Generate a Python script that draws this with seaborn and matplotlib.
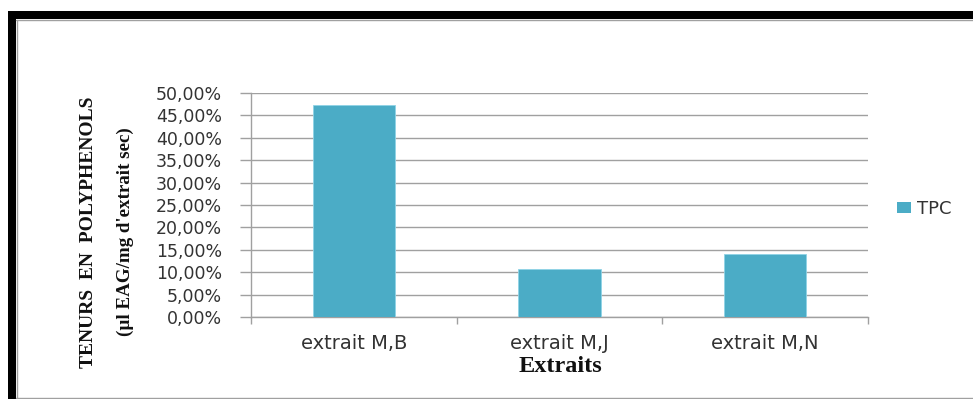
import matplotlib
matplotlib.use("Agg")
import matplotlib.pyplot as plt
import matplotlib.ticker as mticker
from matplotlib.patches import Rectangle, Patch
from matplotlib.lines import Line2D
import seaborn as sns
import pandas as pd

categories = ["extrait M,B", "extrait M,J", "extrait M,N"]
tpc_values = [0.473, 0.107, 0.141]
series_name = "TPC"
ytick_values = [0.0, 0.05, 0.10, 0.15, 0.20, 0.25, 0.30, 0.35, 0.40, 0.45, 0.50]
ylabel_line1 = "TENURS  EN  POLYPHENOLS"
ylabel_line2 = "(µl EAG/mg d'extrait sec)"
xlabel_text = "Extraits"

df = pd.DataFrame({"cat": categories, "val": tpc_values})

sns.set_style("white")
plt.rcParams['font.family'] = ['DejaVu Sans']

W, H = 973, 399
fig = plt.figure(figsize=(W / 100, H / 100), dpi=100)
ax = fig.add_axes([251 / W, 1 - 317.3 / H, (868 - 251) / W, (317.3 - 92.7) / H])

bar_color = "#4BACC6"
sns.barplot(data=df, x="cat", y="val", ax=ax, color=bar_color, width=0.4,
            edgecolor="#8fd3e6", linewidth=0.6, saturation=1, zorder=3)

ax.set_ylim(0, 0.5)
ax.set_xlim(-0.5, 2.5)
ax.set_yticks(ytick_values)
ax.yaxis.set_major_formatter(mticker.FuncFormatter(lambda v, p: f"{v*100:.2f}%".replace(".", ",")))
ax.grid(axis="y", color="#a0a0a0", linewidth=1.0, zorder=0)
ax.set_axisbelow(True)

for s in ["top", "right"]:
    ax.spines[s].set_visible(False)
for s in ["left", "bottom"]:
    ax.spines[s].set_color("#a0a0a0")
    ax.spines[s].set_linewidth(1.0)

ax.tick_params(axis="y", which="major", left=True, length=8, width=1, color="#a0a0a0",
               pad=13, labelsize=12.5, labelcolor="#333333")
ax.tick_params(axis="x", which="major", bottom=False, length=0, pad=12,
               labelsize=14, labelcolor="#333333")
ax.set_xticks([-0.5, 0.5, 1.5, 2.5], minor=True)
ax.tick_params(axis="x", which="minor", bottom=True, length=5, width=1, color="#a0a0a0")
ax.set_xlabel("")
ax.set_ylabel("")

# axis titles
fig.text(560 / W, 1 - 367 / H, xlabel_text, ha="center", va="center",
         family="Liberation Serif", fontweight="bold", fontsize=17.5, color="#111111")
fig.text(89 / W, 1 - 232.5 / H, ylabel_line1, ha="center", va="center", rotation=90,
         family="Liberation Serif", fontweight="bold", fontsize=14, color="#111111")
fig.text(125 / W, 1 - 231.5 / H, ylabel_line2, ha="center", va="center", rotation=90,
         family="Liberation Serif", fontweight="bold", fontsize=13.7, color="#111111")

# legend
handle = Patch(facecolor=bar_color, edgecolor="none", label=series_name)
fig.legend(handles=[handle], loc="center left", bbox_to_anchor=(881 / W, 1 - 209 / H),
           frameon=False, fontsize=13, handlelength=0.75, handleheight=0.55,
           handletextpad=0.35, labelcolor="#333333")

# frame decoration
fig.patches.append(Rectangle((8 / W, 1 - 19 / H), 1 - 8 / W, 8 / H, transform=fig.transFigure,
                             facecolor="black", edgecolor="none"))
fig.patches.append(Rectangle((8 / W, 0), 8 / W, 1 - 11 / H, transform=fig.transFigure,
                             facecolor="black", edgecolor="none"))
fig.lines.append(Line2D([16 / W, 1], [1 - 20 / H, 1 - 20 / H], transform=fig.transFigure,
                        color="#a0a0a0", linewidth=1))
fig.lines.append(Line2D([17 / W, 17 / W], [0, 1 - 20 / H], transform=fig.transFigure,
                        color="#a0a0a0", linewidth=1))
fig.lines.append(Line2D([16 / W, 1], [1.5 / H, 1.5 / H], transform=fig.transFigure,
                        color="#a0a0a0", linewidth=1))

fig.savefig("out.png", dpi=100)
